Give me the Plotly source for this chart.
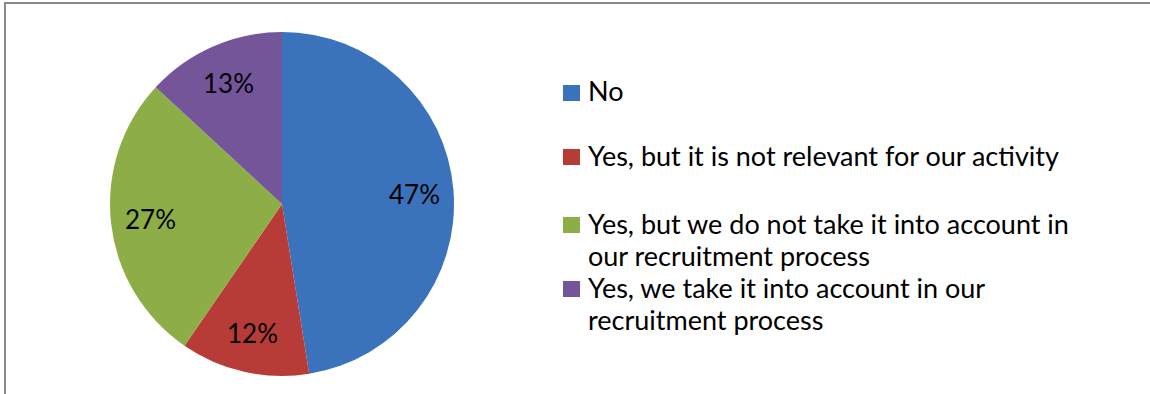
import math
import plotly.graph_objects as go

# Survey answers, percent of respondents
labels = [
    "No",
    "Yes, but it is not relevant for our activity",
    "Yes, but we do not take it into account in<br>our recruitment process",
    "Yes, we take it into account in our<br>recruitment process",
]
values = [47, 12, 27, 13]
colors = ["#3A73BB", "#B73B37", "#8DAE46", "#74559A"]

W, H = 1150, 394
FONT = "Lato, 'Open Sans', sans-serif"

# Pie geometry in pixels
CX, CY, R = 282, 204, 172


def px_x(x):
    return x / W


def px_y(y):
    return 1 - y / H


fig = go.Figure(
    go.Pie(
        labels=labels,
        values=values,
        sort=False,
        direction="clockwise",
        rotation=0,
        marker=dict(colors=colors, line=dict(width=0)),
        textinfo="none",
        domain=dict(x=[px_x(CX - R), px_x(CX + R)], y=[px_y(CY + R), px_y(CY - R)]),
        showlegend=False,
        hoverinfo="label+value",
    )
)

annotations = []

# Percentage labels placed on each slice's bisector
total = sum(values)
start = 0.0
for v in values:
    mid = (start + v / 2) / total * 2 * math.pi
    start += v
    r = 0.77 * R
    x = CX + r * math.sin(mid)
    y = CY - r * math.cos(mid)
    annotations.append(dict(
        xref="paper", yref="paper", x=px_x(x), y=px_y(y),
        xanchor="center", yanchor="middle", text=f"{v}%", showarrow=False,
        font=dict(family=FONT, size=26, color="#000000"),
    ))

# Legend drawn as coloured squares with text beside them
legend_tops = [93, 157, 225, 289]
LINE_GAP = 32
shapes = []
for lab, col, y0 in zip(labels, colors, legend_tops):
    shapes.append(dict(
        type="rect", xref="paper", yref="paper",
        x0=px_x(563), x1=px_x(580), y0=px_y(y0 + 8), y1=px_y(y0 - 8),
        fillcolor=col, line=dict(width=0),
    ))
    for i, line in enumerate(lab.split("<br>")):
        annotations.append(dict(
            xref="paper", yref="paper", x=px_x(586), y=px_y(y0 - 2 + i * LINE_GAP),
            xanchor="left", yanchor="middle", align="left",
            text=line, showarrow=False,
            font=dict(family=FONT, size=27, color="#000000"),
        ))

# Chart frame
shapes.append(dict(
    type="rect", xref="paper", yref="paper",
    x0=px_x(5), x1=px_x(1160), y0=px_y(410), y1=px_y(3),
    line=dict(color="#888888", width=2), fillcolor="rgba(0,0,0,0)",
))

fig.update_layout(
    width=W, height=H,
    margin=dict(l=0, r=0, t=0, b=0),
    paper_bgcolor="#FFFFFF",
    plot_bgcolor="#FFFFFF",
    shapes=shapes,
    annotations=annotations,
)

fig.write_html("out.html")
